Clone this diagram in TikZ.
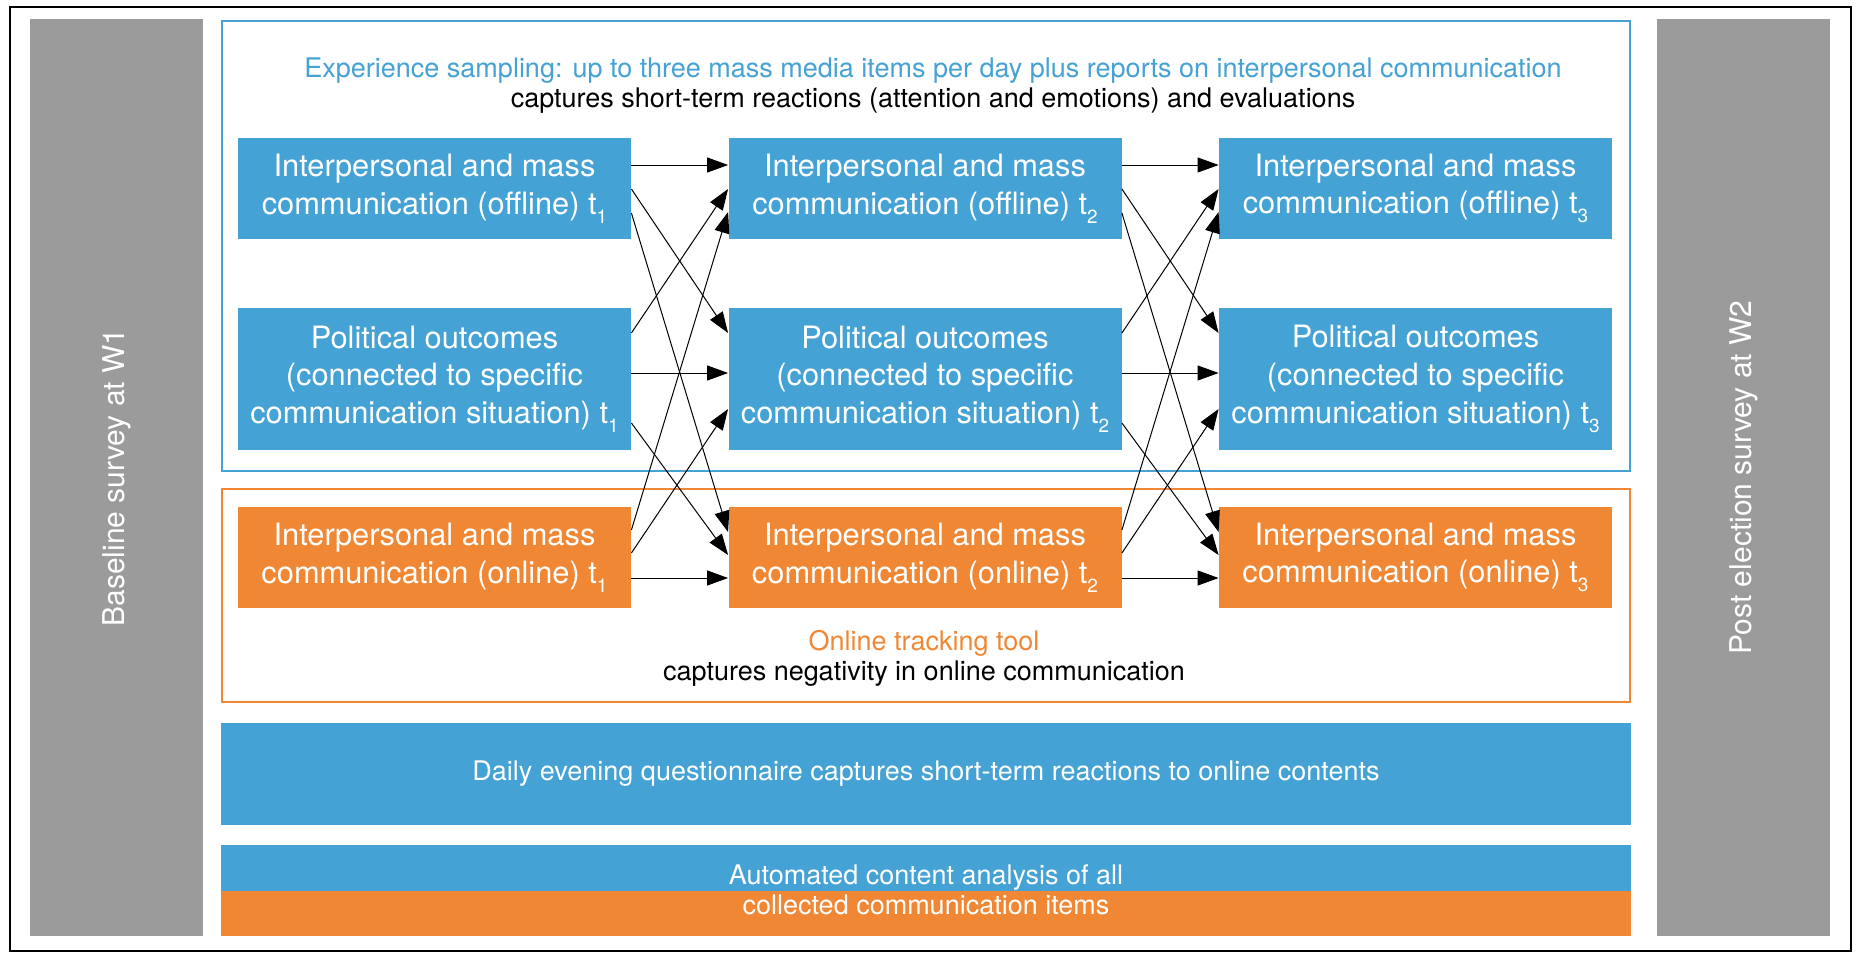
\documentclass[tikz,border=0pt]{standalone}
\usepackage{fontspec}
\setmainfont{TeX Gyre Heros}
\usetikzlibrary{arrows.meta,calc}
\definecolor{cblue}{RGB}{69,162,212}
\definecolor{corange}{RGB}{240,135,52}
\definecolor{cgray}{RGB}{155,155,155}
\newcommand\tsubidx[1]{\raisebox{-4.5pt}{\fontsize{9.5}{10}\selectfont #1}}
\begin{document}
\begin{tikzpicture}[x=0.5pt,y=-0.5pt,
  box/.style={fill=#1, text=white, align=center, minimum width=196.5pt, inner sep=0pt,
    font=\fontsize{15.4}{18.8}\selectfont},
  bar/.style={fill=cgray, text=white, rotate=90, minimum width=458.5pt, minimum height=86.5pt,
    inner sep=0pt, font=\fontsize{15}{18}\selectfont},
  frame/.style={draw=#1, line width=1pt, minimum width=704pt, inner sep=0pt},
  band/.style={fill=#1, minimum width=705pt, inner sep=0pt},
  caption/.style={inner sep=0pt, font=\fontsize{13.5}{16}\selectfont},
  arr/.style={-{Triangle[length=10.5pt,width=7.5pt]}, line width=0.5pt, black}]
\fill[white] (0,0) rectangle (1860,960);
\useasboundingbox (0,0) rectangle (1860,960);
\draw[line width=1pt] (10,7) rectangle (1851,951);

% side bars
\node[bar] (w1) at (116.5,477.5) {Baseline survey at W1};
\node[bar] (w2) at (1743.5,477.5) {Post election survey at W2};

% frames
\node[frame=cblue, minimum height=225pt] (esf) at (926,246) {};
\node[frame=corange, minimum height=106.5pt] (otf) at (926,595.5) {};

% captions
\node[caption, text=cblue] (c1) at (933,71) {Experience sampling: up to three mass media items per day plus reports on interpersonal communication};
\node[caption] (c2) at (933,101) {captures short-term reactions (attention and emotions) and evaluations};
\node[caption, text=corange] (c3) at (924,643) {Online tracking tool};
\node[caption] (c4) at (924,674) {captures negativity in online communication};

% boxes
\foreach \i/\x in {1/434.5,2/925,3/1415.5}{
  \node[box=cblue, minimum height=50.5pt] (o\i) at (\x,188.5) {Interpersonal and mass\\communication (offline) t\tsubidx{\i}};
  \node[box=cblue, minimum height=71pt] (p\i) at (\x,379) {Political outcomes\\(connected to specific\\communication situation) t\tsubidx{\i}};
  \node[box=corange, minimum height=50.5pt] (n\i) at (\x,557.5) {Interpersonal and mass\\communication (online) t\tsubidx{\i}};
}

% arrows
\foreach \s/\t in {1/2,2/3}{
  \draw[arr] ($(o\s.east)+(0,-23.5)$) -- ($(o\t.west)+(0,-23.5)$);
  \draw[arr] ($(o\s.east)+(0,0.5)$) -- ($(p\t.west)+(0,-46)$);
  \draw[arr] ($(o\s.east)+(0,24.5)$) -- ($(n\t.west)+(0,-25.5)$);
  \draw[arr] ($(p\s.east)+(0,-46)$) -- ($(o\t.west)+(0,0.5)$);
  \draw[arr] ($(p\s.east)+(0,-6)$) -- ($(p\t.west)+(0,-6)$);
  \draw[arr] ($(p\s.east)+(0,44)$) -- ($(n\t.west)+(0,-2.5)$);
  \draw[arr] ($(n\s.east)+(0,-27.5)$) -- ($(o\t.west)+(0,23.5)$);
  \draw[arr] ($(n\s.east)+(0,-4.5)$) -- ($(p\t.west)+(0,30)$);
  \draw[arr] ($(n\s.east)+(0,20.5)$) -- ($(n\t.west)+(0,20.5)$);
}

% bottom bands
\node[band=cblue, minimum height=51pt, text=white, font=\fontsize{13.5}{16}\selectfont] (daily) at (926,774)
  {Daily evening questionnaire captures short-term reactions to online contents};
\node[band=cblue, minimum height=23pt] (autoa) at (926,868) {};
\node[band=corange, minimum height=22.5pt] (autob) at (926,913.5) {};
\node[text=white, align=center, inner sep=0pt, font=\fontsize{13.5}{15}\selectfont] (autot) at (926,890)
  {Automated content analysis of all\\collected communication items};
\end{tikzpicture}
\end{document}
